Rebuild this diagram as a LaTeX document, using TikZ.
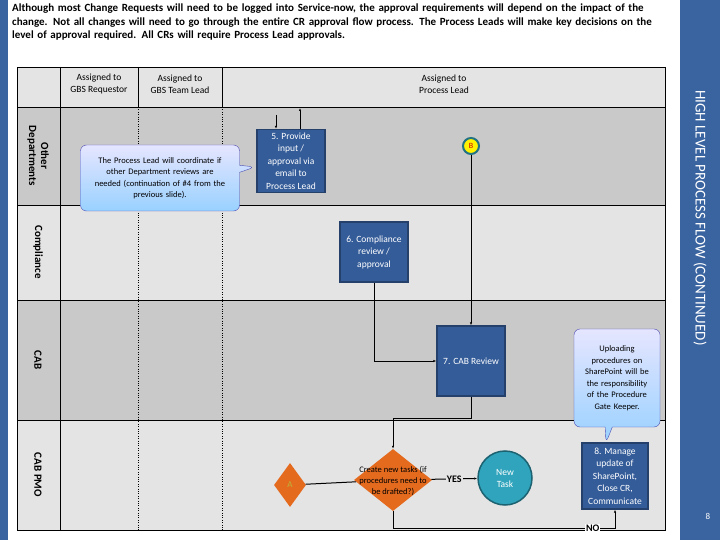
\documentclass[tikz,border=0pt]{standalone}
\usepackage{fontspec}
\setmainfont{Carlito}
\usetikzlibrary{shapes.geometric,shapes.callouts,arrows.meta}
\definecolor{boxblue}{HTML}{345C99}
\definecolor{bar}{HTML}{3A64A0}
\definecolor{laneA}{HTML}{C9C9C9}
\definecolor{laneB}{HTML}{E4E4E4}
\definecolor{dia}{HTML}{E46A1E}
\definecolor{teal}{HTML}{2FA4BC}
\tikzset{
  stepbox/.style={draw=boxblue!70!black,line width=1.2pt,fill=boxblue,text=white,align=center,
    font=\fontsize{9.5}{12.5}\selectfont,inner sep=1pt},
  flow/.style={line width=1pt,-{Latex[length=3pt]}},
  notebox/.style={rectangle callout,rounded corners=6pt,draw=blue!40!gray,top color=blue!10,bottom color=blue!45!cyan!40,
    align=center,font=\fontsize{8.5}{11.5}\selectfont,text width=#1,inner sep=2pt},
  lanelabel/.style={font=\fontsize{11}{12}\selectfont\bfseries,rotate=-90,align=center}
}
\begin{document}
\begin{tikzpicture}[x=1pt,y=-1pt]
  \useasboundingbox (0,0) rectangle (720,540);
  \fill[white] (0,0) rectangle (720,540);
  % bars
  \fill[bar] (0,0) rectangle (8,540);
  \fill[bar] (680,0) rectangle (720,540);
  \node[rotate=-90,text=white,font=\fontsize{15}{17}\selectfont] (ttl) at (700,218) {HIGH LEVEL PROCESS FLOW (CONTINUED)};
  \node[text=white,font=\fontsize{9}{10}\selectfont] (pg) at (708,516) {8};
  \node[anchor=north west,align=left,text width=650,font=\fontsize{11}{13.5}\selectfont\bfseries,inner sep=0] (intro) at (12,4)
    {Although most Change Requests will need to be logged into Service-now, the approval requirements will depend on the impact of the change. Not all changes will need to  go through the entire CR approval flow process. The Process Leads will make key decisions on the level of approval required. All CRs will require Process Lead approvals.};
  % lanes
  \fill[laneB] (17,67) rectangle (665,107);
  \fill[laneA] (17,107) rectangle (665,205);
  \fill[laneB] (17,205) rectangle (665,300);
  \fill[laneA] (17,300) rectangle (665,420);
  \fill[laneB] (17,420) rectangle (665,530);
  \draw (17,67) rectangle (665,530);
  \foreach \y in {107,205,300,420} \draw (17,\y) -- (665,\y);
  \draw (60,67) -- (60,530);
  \draw (138,67) -- (138,107) (222,67) -- (222,107);
  \draw[dotted] (138,107) -- (138,530) (222,107) -- (222,530);
  \draw[dotted] (665,67) -- (665,530);
  \node[font=\fontsize{9.5}{12}\selectfont,align=center] (h1) at (99,84) {Assigned to\\GBS Requestor};
  \node[font=\fontsize{9.5}{12}\selectfont,align=center] (h2) at (180,84) {Assigned to\\GBS Team  Lead};
  \node[font=\fontsize{9.5}{12}\selectfont,align=center] (h3) at (444,84) {Assigned to\\Process Lead};
  \node[lanelabel] (l1) at (38,156) {Other\\Departments};
  \node[lanelabel] (l2) at (38,252) {Compliance};
  \node[lanelabel] (l3) at (38,360) {CAB};
  \node[lanelabel] (l4) at (38,475) {CAB PMO};
  % steps
  \node[stepbox,minimum width=68,minimum height=63] (s5) at (291,161) {5. Provide\\input /\\approval via\\email to\\Process Lead};
  \node[circle,draw=teal!70!black,line width=2pt,fill=yellow,text=red!80!black,font=\fontsize{8}{9}\selectfont,minimum size=16pt,inner sep=0] (b) at (471,146) {B};
  \node[stepbox,minimum width=68,minimum height=60] (s6) at (374,252) {6. Compliance\\review /\\approval};
  \node[stepbox,minimum width=68,minimum height=70] (s7) at (471,361) {7. CAB Review};
  \node[stepbox,minimum width=66,minimum height=66] (s8) at (615,476) {8. Manage\\update of\\SharePoint,\\Close CR,\\Communicate};
  \node[diamond,fill=dia,minimum width=78,minimum height=62,inner sep=0] (d) at (393,480) {};
  \node[font=\fontsize{8.5}{11}\selectfont,align=center] (dt) at (393,481) {Create new tasks (if\\procedures need to\\be drafted?)};
  \node[circle,draw=teal!60!black,line width=1.5pt,fill=teal,text=white,font=\fontsize{9.5}{12}\selectfont,align=center,minimum size=54pt,inner sep=0] (nt) at (505,478) {New\\Task};
  \node[diamond,fill=dia,minimum width=32,minimum height=44,inner sep=0,text=yellow!70!black,font=\fontsize{9}{10}\selectfont] (a) at (290,485) {A};
  \coordinate (c5a) at (276,115);
  \coordinate (c5b) at (300,108);
  % notes
  \node[notebox=155,minimum height=66,callout absolute pointer={(255,167)}] (n1) at (160,178)
    {The Process Lead will coordinate if\\other Department reviews are\\needed (continuation of \#4 from the\\previous slide).};
  \node[notebox=82,minimum height=98,callout absolute pointer={(606,443)}] (n2) at (617,378)
    {Uploading\\procedures on\\SharePoint will be\\the responsibility\\of the Procedure\\Gate Keeper.};
  % connectors
  \draw[flow] (c5a) -- (s5.north -| c5a);
  \draw[flow] (s5.north -| c5b) -- (c5b);
  \draw[flow] (b) -- (s7);
  \draw[flow] (s6.south) |- (s7.west);
  \draw[flow] (s7.south) -- ++(0,22) -| (d.north);
  \draw[line width=1pt] (a) -- (d);
  \draw[flow] (d) -- node[font=\fontsize{10}{11}\selectfont\bfseries,fill=laneB,inner sep=1pt] {YES} (nt);
  \draw[flow] (d.south) -- ++(0,17) -| node[pos=0.45,font=\fontsize{10}{11}\selectfont\bfseries,fill=white,inner sep=1pt] {NO} (s8.south);
\end{tikzpicture}
\end{document}
